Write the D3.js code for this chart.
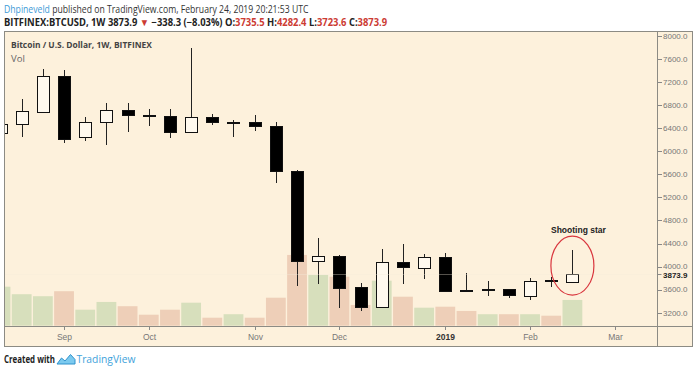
<!DOCTYPE html>
<html>
<head>
<meta charset="utf-8">
<script src="https://cdnjs.cloudflare.com/ajax/libs/d3/7.8.5/d3.min.js"></script>
<style>
body { margin: 0; background: #fff; }
svg { display: block; font-family: "Liberation Sans", Arial, sans-serif; }
</style>
</head>
<body>
<svg width="700" height="370"></svg>
<script>
// weekly BTCUSD candles (Bitfinex), week start dates
var weeks = ["2018-08-13","2018-08-20","2018-08-27","2018-09-03","2018-09-10","2018-09-17","2018-09-24",
  "2018-10-01","2018-10-08","2018-10-15","2018-10-22","2018-10-29","2018-11-05","2018-11-12",
  "2018-11-19","2018-11-26","2018-12-03","2018-12-10","2018-12-17","2018-12-24","2018-12-31",
  "2019-01-07","2019-01-14","2019-01-21","2019-01-28","2019-02-04","2019-02-11","2019-02-18"];
var open  = [6320,6486,6687,7311,6243,6503,6716,6630,6618,6330,6590,6503,6503,6444,5663,4092,4184,3641,3299,4075,3981,4172,3594,3606,3606,3495,3760,3735.5];
var high  = [6620,6902,7428,7410,6590,6843,6833,6729,6729,7790,6642,6543,6630,6513,5670,4491,4201,3710,4305,4392,4219,4231,3884,3750,3612,3797,3814,4282.4];
var low   = [5880,6243,6659,6139,6179,6109,6340,6439,6236,6312,6456,6253,6357,5445,3663,3693,3287,3230,3290,3698,3780,3580,3565,3490,3450,3421,3651,3723.6];
var close = [6480,6704,7306,6225,6508,6716,6624,6612,6335,6590,6496,6508,6439,5658,4097,4184,3634,3299,4075,3981,4172,3589,3585,3612,3507,3755,3740,3873.9];
var volume = [156,126,118,138,64,95,78,44,64,92,32,46,32,112,283,203,196,83,180,116,72,76,59,46,46,46,40,103];

var priceTicks = [3200,3600,4000,4400,4800,5200,5600,6000,6400,6800,7200,7600,8000];
var monthTicks = ["2018-09-03","2018-10-01","2018-11-05","2018-12-03","2019-01-07","2019-02-04","2019-03-04"];
var monthLabels = ["Sep","Oct","Nov","Dec","2019","Feb","Mar"];

var lastPrice = 3873.9;
var noteDate = "2019-02-18", notePrice = 4016, noteText = "Shooting star";

var svg = d3.select("svg");
var parse = d3.timeParse("%Y-%m-%d");

var pLeft = 4.5, pTop = 31.5, pRight = 692.5, pBottom = 346.5, axisX = 657.5, axisY = 326.5;

var x = d3.scaleTime()
  .domain([parse(weeks[0]), parse(weeks[27])])
  .range([0.5, 572.4]);
var y = d3.scaleLinear().domain([3200, 8000]).range([312.7, 36]);
var yVol = d3.scaleLinear().domain([0, 1000]).range([325.7, 75.7]);

var candles = weeks.map(function(w, i) {
  return { date: parse(w), o: open[i], h: high[i], l: low[i], c: close[i], v: volume[i] };
});

// fit a text node to a target width
function fit(sel, w) {
  var bw = sel.node().getComputedTextLength();
  var x0 = +sel.attr("x");
  sel.attr("transform", "translate(" + x0 + ",0) scale(" + (w / bw) + ",1) translate(" + (-x0) + ",0)");
}

// header
var h1 = svg.append("text").attr("x", 4).attr("y", 13).style("font-family", "'Open Sans'").style("font-size", "10px").attr("fill", "#333");
h1.append("tspan").attr("fill", "#3d9ad6").text("Dhpineveld");
h1.append("tspan").text(" published on TradingView.com, February 24, 2019 20:21:53 UTC");
fit(h1, 305);

var red = "#cc3b33";
var h2 = svg.append("text").attr("x", 4).attr("y", 26).style("font-family", "'Open Sans'").style("font-size", "10px").style("font-weight", "bold").attr("fill", "#222");
h2.append("tspan").text("BITFINEX:BTCUSD, 1W  3873.9 ");
h2.append("tspan").attr("fill", red).text("▼");
h2.append("tspan").text(" −338.3 (−8.03%) O:");
h2.append("tspan").attr("fill", red).text("3735.5");
h2.append("tspan").text(" H:");
h2.append("tspan").attr("fill", red).text("4282.4");
h2.append("tspan").text(" L:");
h2.append("tspan").attr("fill", red).text("3723.6");
h2.append("tspan").text(" C:");
h2.append("tspan").attr("fill", red).text("3873.9");
fit(h2, 384);

// panel
svg.append("rect").attr("x", pLeft).attr("y", pTop).attr("width", pRight - pLeft).attr("height", pBottom - pTop)
  .attr("fill", "#fdf1dc");

var defs = svg.append("defs");
defs.append("clipPath").attr("id", "plot").append("rect")
  .attr("x", pLeft + 0.5).attr("y", pTop + 0.5).attr("width", axisX - pLeft - 1).attr("height", axisY - pTop - 1);
defs.append("clipPath").attr("id", "tickclip").append("rect")
  .attr("x", axisX).attr("y", pTop + 0.5).attr("width", pRight - axisX).attr("height", y(lastPrice) - 5 - pTop);

var plot = svg.append("g").attr("clip-path", "url(#plot)");

// volume
plot.append("g").selectAll("rect").data(candles).enter().append("rect")
  .attr("x", function(d) { return x(d.date) - 9.9; })
  .attr("width", 19.8)
  .attr("y", function(d) { return yVol(d.v); })
  .attr("height", function(d) { return yVol(0) - yVol(d.v); })
  .attr("fill", function(d) { return d.c >= d.o ? "#d7dfbc" : "#eecfb8"; });

// wicks
plot.append("g").selectAll("line").data(candles).enter().append("line")
  .attr("x1", function(d) { return Math.round(x(d.date)) + 0.5; })
  .attr("x2", function(d) { return Math.round(x(d.date)) + 0.5; })
  .attr("y1", function(d) { return y(d.h); })
  .attr("y2", function(d) { return y(d.l); })
  .attr("stroke", "#222").attr("stroke-width", 1).attr("shape-rendering", "crispEdges");

// bodies
plot.append("g").selectAll("rect").data(candles).enter().append("rect")
  .attr("x", function(d) { return Math.round(x(d.date)) - 6 + 0.5; })
  .attr("width", 12)
  .attr("y", function(d) { return Math.round(y(Math.max(d.o, d.c))) + 0.5; })
  .attr("height", function(d) { return Math.max(1, Math.round(Math.abs(y(d.o) - y(d.c)))); })
  .attr("fill", function(d) { return d.c >= d.o ? "#fff9ee" : "#000"; })
  .attr("stroke", "#111").attr("stroke-width", 1).attr("shape-rendering", "crispEdges");

// last price line (faint, shows mostly over dark bodies)
plot.append("line").attr("x1", pLeft).attr("x2", axisX)
  .attr("y1", Math.round(y(lastPrice)) + 0.5).attr("y2", Math.round(y(lastPrice)) + 0.5)
  .attr("stroke", "#f3ead9").attr("stroke-opacity", 0.35).attr("shape-rendering", "crispEdges");

// annotation
plot.append("ellipse").attr("cx", x(parse(noteDate))).attr("cy", y(notePrice))
  .attr("rx", 21.5).attr("ry", 29.5)
  .attr("fill", "none").attr("stroke", "#d9363e").attr("stroke-width", 1.2);
plot.append("text").attr("x", x(parse(noteDate)) + 6).attr("y", y(notePrice) - 33)
  .attr("text-anchor", "middle").style("font-size", "8.5px").style("font-weight", "bold")
  .attr("fill", "#222").text(noteText);

// legend text
var t1 = svg.append("text").attr("x", 11).attr("y", 48).style("font-family", "'Open Sans'").style("font-size", "9.5px")
  .style("font-weight", "bold").attr("fill", "#444").text("Bitcoin / U.S. Dollar, 1W, BITFINEX");
fit(t1, 141);
svg.append("text").attr("x", 11).attr("y", 61.5).style("font-family", "'Open Sans'").style("font-size", "9.5px")
  .attr("fill", "#666").text("Vol");

// price axis
var pa = svg.append("g");
pa.selectAll("line").data(priceTicks).enter().append("line")
  .attr("x1", axisX).attr("x2", axisX + 4)
  .attr("y1", function(d) { return Math.round(y(d)) + 0.5; })
  .attr("y2", function(d) { return Math.round(y(d)) + 0.5; })
  .attr("stroke", "#888").attr("shape-rendering", "crispEdges");
pa.selectAll("text").data(priceTicks).enter().append("text")
  .attr("x", axisX + 5.5).attr("y", function(d) { return y(d); }).attr("dy", "0.35em")
  .attr("clip-path", function(d) { return d === 4000 ? "url(#tickclip)" : null; })
  .style("font-size", "8px").attr("fill", "#777")
  .text(function(d) { return d3.format(".1f")(d); });

pa.append("line").attr("x1", axisX).attr("x2", axisX + 4)
  .attr("y1", Math.round(y(lastPrice)) + 0.5).attr("y2", Math.round(y(lastPrice)) + 0.5)
  .attr("stroke", "#888");
pa.append("text").attr("x", axisX + 5.5).attr("y", y(lastPrice) + 1).attr("dy", "0.35em")
  .style("font-size", "8px").style("font-weight", "bold").attr("fill", "#222")
  .text(d3.format(".1f")(lastPrice));

// time axis
var ta = svg.append("g");
monthTicks.forEach(function(m, i) {
  var mx = Math.round(x(parse(m))) + 0.5;
  ta.append("line").attr("x1", mx).attr("x2", mx).attr("y1", axisY).attr("y2", axisY + 3)
    .attr("stroke", "#888").attr("shape-rendering", "crispEdges");
  ta.append("text").attr("x", mx).attr("y", 340).attr("text-anchor", "middle")
    .style("font-size", "8.5px")
    .style("font-weight", monthLabels[i] === "2019" ? "bold" : "normal")
    .attr("fill", monthLabels[i] === "2019" ? "#333" : "#777")
    .text(monthLabels[i]);
});

// frame
svg.append("rect").attr("x", pLeft).attr("y", pTop).attr("width", pRight - pLeft).attr("height", pBottom - pTop)
  .attr("fill", "none").attr("stroke", "#8c8b84").attr("shape-rendering", "crispEdges");
svg.append("line").attr("x1", axisX).attr("x2", axisX).attr("y1", pTop).attr("y2", pBottom)
  .attr("stroke", "#8c8b84").attr("shape-rendering", "crispEdges");
svg.append("line").attr("x1", pLeft).attr("x2", pRight).attr("y1", axisY).attr("y2", axisY)
  .attr("stroke", "#8c8b84").attr("shape-rendering", "crispEdges");

// footer
var f1 = svg.append("text").attr("x", 4).attr("y", 363).style("font-family", "'Open Sans'").style("font-size", "10.5px")
  .style("font-weight", "bold").attr("fill", "#222").text("Created with");
fit(f1, 51);
svg.append("path").attr("d", "M57,364 L61.5,358 L65,361 L70.5,354.5 L75,359.5 L75,364 Z")
  .attr("fill", "#7ccaef").attr("stroke", "#2f92cc").attr("stroke-width", 1).attr("stroke-linejoin", "round");
var f2 = svg.append("text").attr("x", 76.5).attr("y", 363).style("font-family", "'Open Sans'").style("font-size", "10.5px")
  .attr("fill", "#3fa3db").text("TradingView");
fit(f2, 59);
</script>
</body>
</html>
